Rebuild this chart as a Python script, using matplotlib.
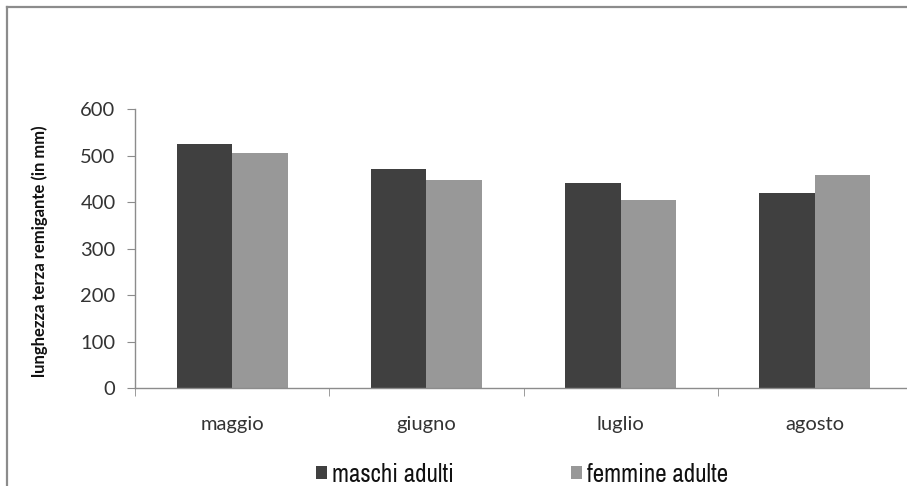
import matplotlib
matplotlib.use('Agg')
from matplotlib import pyplot as plt
from matplotlib.lines import Line2D
from matplotlib import font_manager
import numpy as np

mesi = ['maggio', 'giugno', 'luglio', 'agosto']
maschi = [525, 472, 441, 421]
femmine = [505, 449, 405, 459]
y_ticks = [0, 100, 200, 300, 400, 500, 600]

# pick an upright narrow face for the legend if one is installed
narrow = None
for f in font_manager.fontManager.ttflist:
    if ('Narrow' in f.name or 'Condensed' in f.name) and f.style == 'normal' \
            and f.weight in (400, 'normal', 'regular'):
        narrow = f.fname
        break
leg_prop = font_manager.FontProperties(fname=narrow, size=18) if narrow else \
    font_manager.FontProperties(family='DejaVu Sans', size=14)

plt.rcParams['font.family'] = ['Lato', 'DejaVu Sans']

fig = plt.figure(figsize=(9.07, 4.86), dpi=100)
fig.patch.set_facecolor('white')

# frame of the chart area (only top and left edges are visible)
fig.add_artist(Line2D([7 / 907, 7 / 907], [0, 1 - 7 / 486], transform=fig.transFigure,
                      color='#8c8c8c', lw=1.6))
fig.add_artist(Line2D([7 / 907, 1], [1 - 7 / 486, 1 - 7 / 486], transform=fig.transFigure,
                      color='#8c8c8c', lw=1.6))

ax = fig.add_axes([135 / 907, 1 - 388.3 / 486, 777 / 907, 279 / 486])

x = np.arange(len(mesi))
w = 1 / 3.5
ax.bar(x - w / 2, maschi, width=w, color='#404040', label='maschi adulti', zorder=2)
ax.bar(x + w / 2, femmine, width=w, color='#989898', label='femmine adulte', zorder=2)

ax.set_xlim(-0.5, len(mesi) - 0.5)
ax.set_ylim(0, 600)
ax.set_yticks(y_ticks)
ax.tick_params(axis='y', labelsize=14.5, colors='#8c8c8c', labelcolor='#333333',
               length=6, direction='out', pad=8)

ax.set_xticks(x)
ax.set_xticklabels(mesi)
ax.set_xticks(np.arange(len(mesi)) - 0.5, minor=True)
ax.tick_params(axis='x', which='major', length=0, labelsize=14.5, labelcolor='#333333', pad=20)
ax.tick_params(axis='x', which='minor', length=6, colors='#8c8c8c', direction='out')

for s in ['top', 'right']:
    ax.spines[s].set_visible(False)
for s in ['left', 'bottom']:
    ax.spines[s].set_color('#8c8c8c')
    ax.spines[s].set_linewidth(1.0)

ax.set_ylabel('lunghezza terza remigante (in mm)', fontsize=12, fontweight='bold',
              color='#111111')
ax.yaxis.set_label_coords(-0.112, 0.49)

leg = fig.legend(loc='center', bbox_to_anchor=(522 / 907, 1 - 474 / 486), ncol=2, frameon=False,
                 handlelength=0.45, handleheight=0.45, handletextpad=0.18, columnspacing=4.7,
                 borderpad=0, borderaxespad=0, prop=leg_prop)
for t in leg.get_texts():
    t.set_color('#111111')

fig.savefig('out.png', dpi=100, facecolor='white')
